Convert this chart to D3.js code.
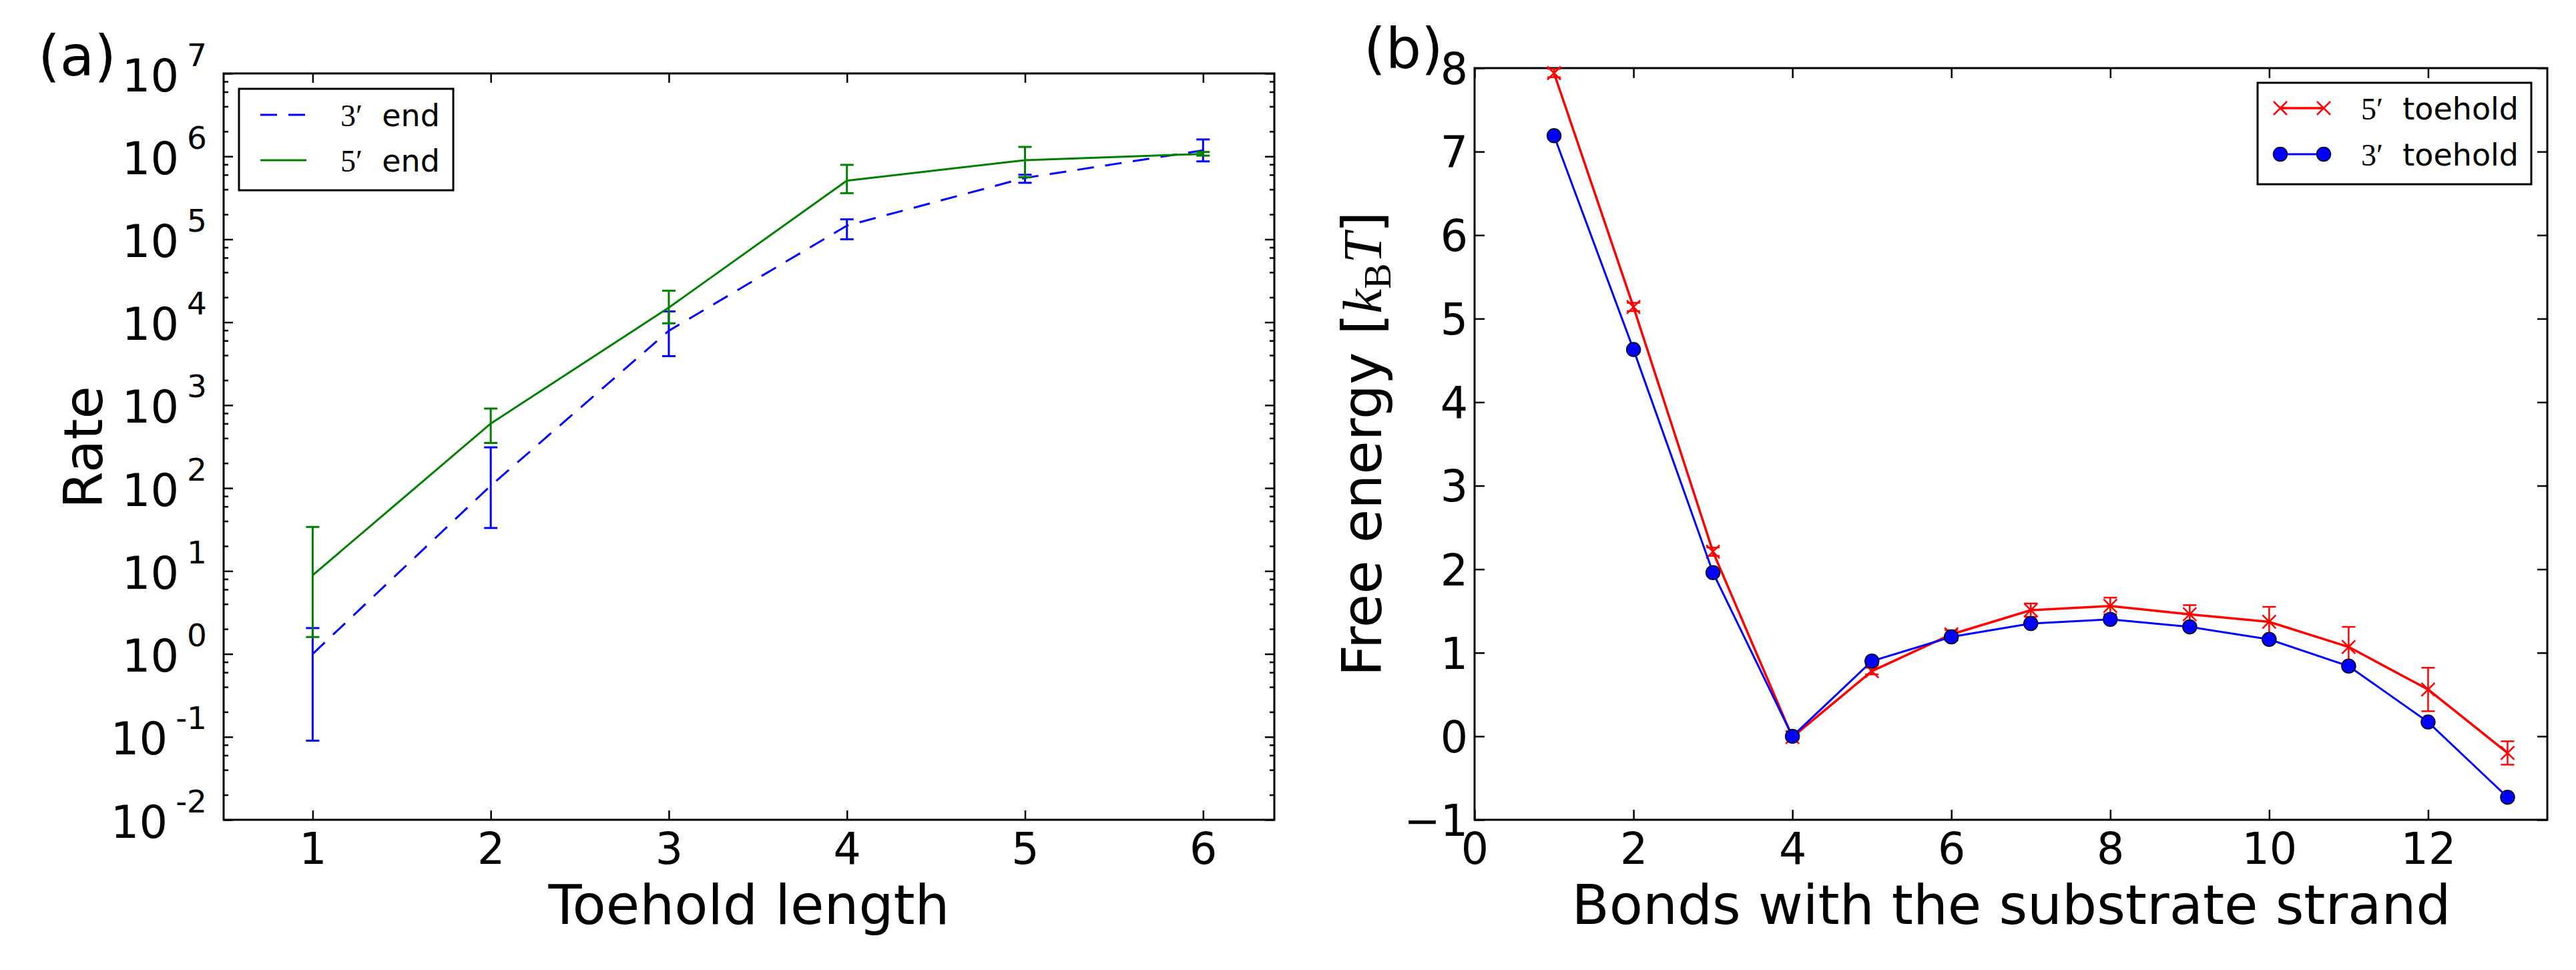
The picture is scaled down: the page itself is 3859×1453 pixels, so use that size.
<!DOCTYPE html>
<html>
<head>
<meta charset="utf-8">
<script src="https://cdn.jsdelivr.net/npm/d3@7"></script>
<style>
  body { margin: 0; background: #fff; }
  text { font-family: "DejaVu Sans", sans-serif; }
</style>
</head>
<body>
<script>
// ---- panel (a): rate vs toehold length ----
const toeholdLength = [1, 2, 3, 4, 5, 6];
const rate3End   = [1.0, 107, 7900, 1.46e5, 5.5e5, 1.18e6];
const rate3EndLo = [0.09, 33, 3900, 1.0e5, 4.8e5, 8.7e5];
const rate3EndHi = [2.05, 310, 13500, 1.74e5, 6.0e5, 1.6e6];
const rate5End   = [8.9, 600, 15000, 5.1e5, 9.0e5, 1.07e6];
const rate5EndLo = [1.6, 350, 9700, 3.6e5, 5.6e5, 1.02e6];
const rate5EndHi = [34, 910, 24000, 7.9e5, 1.3e6, 1.13e6];
const rateTicks = [1e-2, 1e-1, 1e0, 1e1, 1e2, 1e3, 1e4, 1e5, 1e6, 1e7];
const rateMinorSubs = [2, 4, 6, 8];

// ---- panel (b): free energy vs bonds ----
const bonds = [1, 2, 3, 4, 5, 6, 7, 8, 9, 10, 11, 12, 13];
const energy5 = [7.94, 5.14, 2.21, -0.01, 0.78, 1.22, 1.51, 1.56, 1.46, 1.37, 1.07, 0.56, -0.20];
const energy5Err = [0.05, 0.05, 0.05, 0.03, 0.04, 0.05, 0.08, 0.10, 0.11, 0.18, 0.24, 0.26, 0.14];
const energy3 = [7.19, 4.63, 1.96, 0.0, 0.90, 1.19, 1.35, 1.40, 1.31, 1.16, 0.84, 0.17, -0.73];
const bondTicks = [0, 2, 4, 6, 8, 10, 12];
const energyTicks = [-1, 0, 1, 2, 3, 4, 5, 6, 7, 8];

const W = 3859, H = 1453;
const tickFont = 65, labelFont = 82, legendFont = 46;

const svg = d3.select("body").append("svg")
    .attr("width", W)
    .attr("height", H)
    .style("background", "#fff");

// draws ticks on all four sides (inward) and the frame
function drawFrame(g, x, y, opts) {
    const [x0, x1] = x.range();
    const [y1, y0] = y.range();

    const bottom = g.append("g").attr("transform", `translate(0,${y1})`)
        .call(d3.axisBottom(x).tickValues(opts.xTicks).tickSizeInner(-opts.major)
            .tickSizeOuter(0).tickPadding(20).tickFormat(opts.xFormat || (d => d)));
    const top = g.append("g").attr("transform", `translate(0,${y0})`)
        .call(d3.axisTop(x).tickValues(opts.xTicks).tickSizeInner(-opts.major)
            .tickSizeOuter(0).tickFormat(""));
    const left = g.append("g").attr("transform", `translate(${x0},0)`)
        .call(d3.axisLeft(y).tickValues(opts.yTicks).tickSizeInner(-opts.major)
            .tickSizeOuter(0).tickPadding(opts.yPad).tickFormat(opts.yFormat || (d => d)));
    const right = g.append("g").attr("transform", `translate(${x1},0)`)
        .call(d3.axisRight(y).tickValues(opts.yTicks).tickSizeInner(-opts.major)
            .tickSizeOuter(0).tickFormat(""));
    const all = [bottom, top, left, right];

    if (opts.yMinor) {
        all.push(g.append("g").attr("transform", `translate(${x0},0)`)
            .call(d3.axisLeft(y).tickValues(opts.yMinor).tickSizeInner(-opts.minor)
                .tickSizeOuter(0).tickFormat("")));
        all.push(g.append("g").attr("transform", `translate(${x1},0)`)
            .call(d3.axisRight(y).tickValues(opts.yMinor).tickSizeInner(-opts.minor)
                .tickSizeOuter(0).tickFormat("")));
    }

    all.forEach(a => {
        a.select(".domain").remove();
        a.selectAll(".tick line").attr("stroke", "#000").attr("stroke-width", 2.5);
        a.attr("font-family", "DejaVu Sans").attr("font-size", tickFont);
        a.selectAll(".tick text").attr("fill", "#000");
    });

    g.append("rect")
        .attr("x", x0).attr("y", y0)
        .attr("width", x1 - x0).attr("height", y1 - y0)
        .attr("fill", "none")
        .attr("stroke", "#000")
        .attr("stroke-width", 3);

    return { bottom, left };
}

function errorBars(g, xs, ys, lo, hi, x, y, color, width) {
    const eb = g.append("g").attr("stroke", color).attr("stroke-width", width);
    xs.forEach((xv, i) => {
        const px = x(xv);
        eb.append("line").attr("x1", px).attr("x2", px).attr("y1", y(lo[i])).attr("y2", y(hi[i]));
        eb.append("line").attr("x1", px - 10).attr("x2", px + 10).attr("y1", y(lo[i])).attr("y2", y(lo[i]));
        eb.append("line").attr("x1", px - 10).attr("x2", px + 10).attr("y1", y(hi[i])).attr("y2", y(hi[i]));
    });
}

function primeLabel(text, digit, rest) {
    text.append("tspan").attr("font-family", "Liberation Serif").text(digit + "\u2032");
    text.append("tspan").text(rest);
}

// ================= panel (a) =================
const xA = d3.scaleLinear().domain([0.5, 6.4]).range([335, 1909]);
const yA = d3.scaleLog().domain([1e-2, 1e7]).range([1228, 110]);

const rateMinor = [];
for (let k = -2; k < 7; k++) rateMinorSubs.forEach(m => rateMinor.push(m * Math.pow(10, k)));

const gA = svg.append("g");
const axA = drawFrame(gA, xA, yA, {
    xTicks: toeholdLength, yTicks: rateTicks, yMinor: rateMinor,
    major: 14, minor: 7, yPad: 25, yFormat: () => "10"
});
axA.left.selectAll(".tick text").each(function (d) {
    const t = d3.select(this).attr("dy", 26).attr("font-size", 67);
    t.append("tspan").attr("font-size", 47).attr("dx", 12).attr("dy", -38)
        .text(String(Math.round(Math.log10(d))));
});

const line3 = toeholdLength.map((v, i) => [v, rate3End[i]]);
const line5 = toeholdLength.map((v, i) => [v, rate5End[i]]);
const lineA = d3.line().x(d => xA(d[0])).y(d => yA(d[1]));

errorBars(gA, toeholdLength, rate3End, rate3EndLo, rate3EndHi, xA, yA, "#0000ff", 3);
gA.append("path").attr("d", lineA(line3))
    .attr("fill", "none").attr("stroke", "#0000ff").attr("stroke-width", 3)
    .attr("stroke-dasharray", "25,17");
errorBars(gA, toeholdLength, rate5End, rate5EndLo, rate5EndHi, xA, yA, "#008000", 3);
gA.append("path").attr("d", lineA(line5))
    .attr("fill", "none").attr("stroke", "#008000").attr("stroke-width", 3);

// legend (a)
const legA = gA.append("g");
legA.append("rect").attr("x", 358).attr("y", 133).attr("width", 321).attr("height", 152)
    .attr("fill", "#fff").attr("stroke", "#000").attr("stroke-width", 3);
legA.append("line").attr("x1", 390).attr("x2", 459).attr("y1", 172).attr("y2", 172)
    .attr("stroke", "#0000ff").attr("stroke-width", 3).attr("stroke-dasharray", "25,17");
legA.append("line").attr("x1", 390).attr("x2", 459).attr("y1", 240).attr("y2", 240)
    .attr("stroke", "#008000").attr("stroke-width", 3);
primeLabel(legA.append("text").attr("x", 510).attr("y", 189).attr("font-size", legendFont)
    .attr("xml:space", "preserve"), "3", "  end");
primeLabel(legA.append("text").attr("x", 510).attr("y", 257).attr("font-size", legendFont)
    .attr("xml:space", "preserve"), "5", "  end");

gA.append("text").attr("x", 1122).attr("y", 1384).attr("text-anchor", "middle")
    .attr("font-size", labelFont).text("Toehold length");
gA.append("text").attr("transform", "translate(153,670) rotate(-90)").attr("text-anchor", "middle")
    .attr("font-size", 80).text("Rate");
gA.append("text").attr("x", 57).attr("y", 113).attr("font-family", "Liberation Sans")
    .attr("font-size", 84).text("(a)");

// ================= panel (b) =================
const xB = d3.scaleLinear().domain([0, 13.5]).range([2209, 3816]);
const yB = d3.scaleLinear().domain([-1, 8]).range([1228, 102]);

const gB = svg.append("g");
drawFrame(gB, xB, yB, {
    xTicks: bondTicks, yTicks: energyTicks,
    major: 15, yPad: 10,
    yFormat: d => d < 0 ? "\u2212" + Math.abs(d) : String(d)
}).left.selectAll(".tick text").attr("dy", "0.36em");

const lineB = d3.line().x(d => xB(d[0])).y(d => yB(d[1]));

// 5' toehold (red, x markers, error bars)
errorBars(gB, bonds, energy5,
    energy5.map((v, i) => v - energy5Err[i]), energy5.map((v, i) => v + energy5Err[i]),
    xB, yB, "#ff0000", 2.5);
gB.append("path").attr("d", lineB(bonds.map((v, i) => [v, energy5[i]])))
    .attr("fill", "none").attr("stroke", "#ff0000").attr("stroke-width", 3.5);
function crossMark(g, cx, cy) {
    g.append("path").attr("d", `M${cx - 10},${cy - 10}L${cx + 10},${cy + 10}M${cx - 10},${cy + 10}L${cx + 10},${cy - 10}`)
        .attr("stroke", "#ff0000").attr("stroke-width", 2.5).attr("fill", "none");
}
bonds.forEach((v, i) => crossMark(gB, xB(v), yB(energy5[i])));

// 3' toehold (blue, circles)
gB.append("path").attr("d", lineB(bonds.map((v, i) => [v, energy3[i]])))
    .attr("fill", "none").attr("stroke", "#0000ff").attr("stroke-width", 3);
gB.selectAll("circle.e3").data(bonds).enter().append("circle")
    .attr("class", "e3")
    .attr("cx", d => xB(d))
    .attr("cy", (d, i) => yB(energy3[i]))
    .attr("r", 10.5)
    .attr("fill", "#0000ff").attr("stroke", "#000").attr("stroke-width", 1.5);

// legend (b)
const legB = gB.append("g");
legB.append("rect").attr("x", 3382).attr("y", 124).attr("width", 410).attr("height", 152)
    .attr("fill", "#fff").attr("stroke", "#000").attr("stroke-width", 3);
legB.append("line").attr("x1", 3416).attr("x2", 3481).attr("y1", 162).attr("y2", 162)
    .attr("stroke", "#ff0000").attr("stroke-width", 3.5);
crossMark(legB, 3416, 162);
crossMark(legB, 3481, 162);
legB.append("line").attr("x1", 3416).attr("x2", 3481).attr("y1", 231).attr("y2", 231)
    .attr("stroke", "#0000ff").attr("stroke-width", 3);
[3416, 3481].forEach(cx => legB.append("circle").attr("cx", cx).attr("cy", 231).attr("r", 10.5)
    .attr("fill", "#0000ff").attr("stroke", "#000").attr("stroke-width", 1.5));
primeLabel(legB.append("text").attr("x", 3537).attr("y", 179).attr("font-size", legendFont)
    .attr("xml:space", "preserve"), "5", "  toehold");
primeLabel(legB.append("text").attr("x", 3537).attr("y", 248).attr("font-size", legendFont)
    .attr("xml:space", "preserve"), "3", "  toehold");

gB.append("text").attr("x", 3013).attr("y", 1384).attr("text-anchor", "middle")
    .attr("font-size", labelFont).text("Bonds with the substrate strand");

const yLabB = gB.append("text").attr("transform", "translate(2069,665) rotate(-90)")
    .attr("text-anchor", "middle").attr("font-size", labelFont);
yLabB.append("tspan").text("Free energy [");
yLabB.append("tspan").attr("font-family", "Liberation Serif").attr("font-style", "italic").text("k");
yLabB.append("tspan").attr("font-family", "Liberation Serif").attr("font-size", 58).attr("dy", 14).text("B");
yLabB.append("tspan").attr("font-family", "Liberation Serif").attr("font-style", "italic").attr("dy", -14).text("T");
yLabB.append("tspan").text("]");

gB.append("text").attr("x", 2043).attr("y", 102).attr("font-family", "Liberation Sans")
    .attr("font-size", 84).text("(b)");
</script>
</body>
</html>
